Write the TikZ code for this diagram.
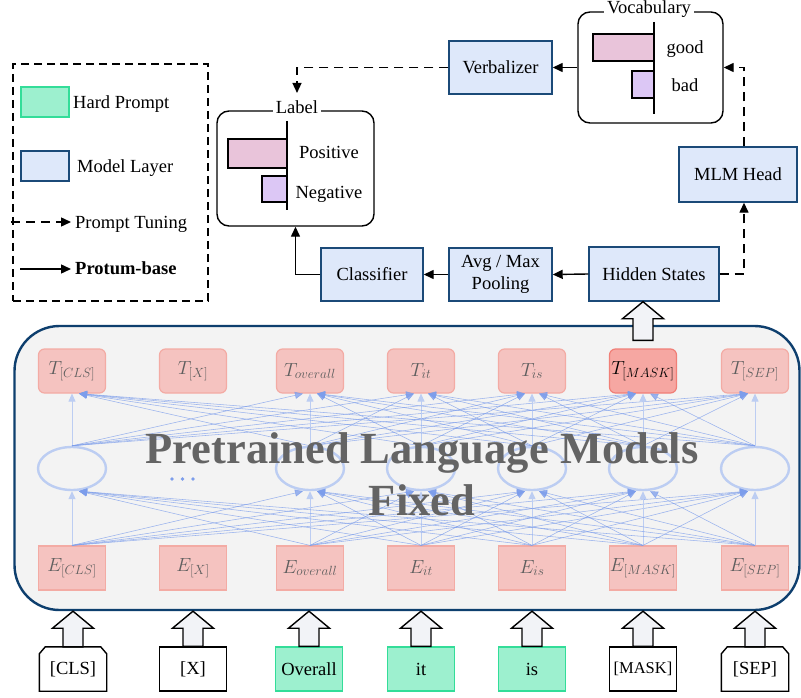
\RequirePackage{fix-cm}
\documentclass[tikz,border=0pt]{standalone}
\usepackage{fontspec}
\setmainfont{Liberation Serif}
\usetikzlibrary{arrows.meta,calc,shapes.geometric}
\definecolor{mlfill}{HTML}{DEE8FA}
\definecolor{mldraw}{HTML}{1B4A78}
\definecolor{hpfill}{HTML}{9DF0CF}
\definecolor{hpdraw}{HTML}{33DD99}
\definecolor{tfill}{HTML}{F5C3C0}
\definecolor{tdraw}{HTML}{F3ABA4}
\definecolor{mfill}{HTML}{F6A7A2}
\definecolor{mdraw}{HTML}{F07F77}
\definecolor{plmfill}{HTML}{F3F3F3}
\definecolor{plmdraw}{HTML}{0E3F6E}
\definecolor{netdark}{HTML}{7C9DEB}
\definecolor{netlight}{HTML}{BCCDF2}
\definecolor{pinkbar}{HTML}{E9C4DA}
\definecolor{lavbar}{HTML}{DCC7F5}
\definecolor{arrfill}{HTML}{F2F3F7}
\definecolor{txtgray}{HTML}{5E5E5E}
\definecolor{bigtxt}{HTML}{646464}
\newcommand{\fsn}{\fontsize{18.5}{22}\selectfont}
\newcommand{\fsm}{\fontsize{16.5}{20}\selectfont}
\newcommand{\fst}{\fontsize{19}{22}\selectfont}
\newcommand{\fsbig}{\fontsize{44.5}{52}\selectfont\bfseries}
\newcommand{\hollowup}[2]{%
  \draw[blockarr] ($(#1)+(-10,0)$) -- ($(#2)+(-10,17)$) -- ($(#2)+(-20.5,17)$) -- (#2)
    -- ($(#2)+(20.5,17)$) -- ($(#2)+(10,17)$) -- ($(#1)+(10,0)$) -- cycle;}
\begin{document}
\begin{tikzpicture}[x=1pt,y=-1pt,
  mlbox/.style={draw=mldraw, fill=mlfill, line width=1.4pt, inner sep=0pt, align=center, font=\fsn},
  rbox/.style={draw=black, line width=1.4pt, rounded corners=12pt, fill=white, inner sep=0pt},
  ttl/.style={fill=white, inner sep=3pt, anchor=base, font=\fsn},
  tnode/.style={draw=tdraw, fill=tfill, line width=1.2pt, rounded corners=6pt, minimum width=67pt, minimum height=44pt, inner sep=0pt, font=\fst, text=txtgray},
  enode/.style={draw=tdraw, fill=tfill, line width=1.2pt, minimum width=67pt, minimum height=44pt, inner sep=0pt, font=\fst, text=txtgray},
  hnode/.style={ellipse, draw=netlight, line width=2.4pt, minimum width=68pt, minimum height=43pt, inner sep=0pt},
  inbox/.style={minimum width=67pt, minimum height=44pt, inner sep=0pt, font=\fsn},
  hp/.style={inbox, draw=hpdraw, fill=hpfill, line width=1.4pt},
  plainin/.style={inbox, draw=black, fill=white, line width=1.4pt},
  blockarr/.style={draw=black, fill=arrfill, line width=1.4pt, line join=miter},
  solidarr/.style={draw=black, line width=1.4pt, -{Triangle[length=10pt,width=9pt]}},
  dasharr/.style={solidarr, dash pattern=on 9pt off 6pt},
  diag/.style={draw=netdark, line width=0.55pt, opacity=0.75, -{Triangle[length=8pt,width=7pt]}},
  vert/.style={draw=netlight, line width=1pt, -{Triangle[length=8pt,width=7pt]}},
  bar/.style={draw=black, line width=2.4pt},
  lbl/.style={anchor=base, font=\fsn, inner sep=0pt},
]
\useasboundingbox (0,0) rectangle (801,698);

% ---------- legend ----------
\node[draw, line width=1.4pt, dash pattern=on 8pt off 5pt, minimum width=195pt, minimum height=237pt, inner sep=0pt] (legend) at (110.5,182.5) {};
\node[draw=hpdraw, fill=hpfill, line width=1.4pt, minimum width=48pt, minimum height=30pt, inner sep=0pt] (lghp) at (45,102) {};
\node[lbl, anchor=base west] (lghpt) at (73,109) {Hard Prompt};
\node[draw=mldraw, fill=mlfill, line width=1.4pt, minimum width=48pt, minimum height=30pt, inner sep=0pt] (lgml) at (45,166) {};
\node[lbl, anchor=base west] (lgmlt) at (77,173) {Model Layer};
\coordinate (lgpa) at (11,222);
\coordinate (lgpb) at (71,222);
\draw[dasharr] (lgpa) -- (lgpb);
\node[lbl, anchor=base west] (lgpt) at (75,228) {Prompt Tuning};
\coordinate (lgsa) at (20,269);
\coordinate (lgsb) at (71,269);
\draw[solidarr] (lgsa) -- (lgsb);
\node[lbl, anchor=base west, font=\fsn\bfseries] (lgst) at (75,274) {Protum-base};

% ---------- top pipeline ----------
\node[rbox, minimum width=145pt, minimum height=111pt] (voc) at (650.5,67.5) {};
\node[ttl] (voctitle) at (649,14) {Vocabulary};
\draw[bar, fill=pinkbar] (593,34) rectangle (654,61);
\draw[bar, fill=lavbar] (632,71) rectangle (654,98);
\draw[line width=2.4pt] (654,22) -- (654,114);
\node[lbl] (good) at (685,54) {good};
\node[lbl] (bad) at (685,92) {bad};

\node[mlbox, minimum width=103pt, minimum height=53pt] (verb) at (500.5,67.5) {Verbalizer};
\node[mlbox, minimum width=118pt, minimum height=55pt] (mlm) at (738,174.5) {MLM Head};
\node[mlbox, minimum width=130pt, minimum height=54pt] (hid) at (654,274) {Hidden States};
\node[mlbox, minimum width=103pt, minimum height=53pt] (pool) at (500.5,274.5) {Avg / Max\\Pooling};
\node[mlbox, minimum width=102pt, minimum height=53pt] (cls) at (372,274.5) {Classifier};

\node[rbox, minimum width=157pt, minimum height=115pt] (lab) at (295.5,168.5) {};
\node[ttl] (labtitle) at (297,114) {Label};
\draw[bar, fill=pinkbar] (228,139) rectangle (287,168);
\draw[bar, fill=lavbar] (262,176) rectangle (287,202);
\draw[line width=2.4pt] (287,121) -- (287,210);
\node[lbl] (pos) at (329,159) {Positive};
\node[lbl] (neg) at (329,198) {Negative};

\draw[solidarr] (voc.west) -- (verb.east);
\draw[dasharr] (verb.west) -| ([yshift=5pt]labtitle.north);
\draw[solidarr] (hid.west) -- (pool.east);
\draw[solidarr] (pool.west) -- (cls.east);
\draw[solidarr] (cls.west) -| (lab.south);
\draw[dasharr] (hid.east) -| ([xshift=6pt]mlm.south);
\draw[dasharr] ([xshift=6pt]mlm.north) |- (voc.east);

% ---------- PLM ----------
\node[draw=plmdraw, fill=plmfill, line width=2.4pt, rounded corners=45pt, minimum width=785pt, minimum height=284pt, inner sep=0pt] (plm) at (407,468) {};

\node[tnode] (t1) at (72,371) {$T_{[CLS]}$};
\node[tnode] (t2) at (193,371) {$T_{[X]}$};
\node[tnode] (t3) at (310,371) {$T_{overall}$};
\node[tnode] (t4) at (421,371) {$T_{it}$};
\node[tnode] (t5) at (532,371) {$T_{is}$};
\node[tnode, fill=mfill, draw=mdraw, text=black] (t6) at (643,371) {$T_{[MASK]}$};
\node[tnode] (t7) at (755,371) {$T_{[SEP]}$};

\node[enode] (e1) at (72,568) {$E_{[CLS]}$};
\node[enode] (e2) at (193,568) {$E_{[X]}$};
\node[enode] (e3) at (310,568) {$E_{overall}$};
\node[enode] (e4) at (421,568) {$E_{it}$};
\node[enode] (e5) at (532,568) {$E_{is}$};
\node[enode] (e6) at (643,568) {$E_{[MASK]}$};
\node[enode] (e7) at (755,568) {$E_{[SEP]}$};

\foreach \i/\x in {1/72,3/310,4/421,5/532,6/643,7/755}{
  \node[hnode] (h\i) at (\x,468.5) {};
}

\foreach \i in {1,3,4,5,6,7}{
  \foreach \j in {1,3,4,5,6,7}{
    \ifnum\i=\j
      \draw[vert] (e\i.north) -- (h\j.south);
      \draw[vert] (h\i.north) -- (t\j.south);
    \else
      \pgfmathsetmacro\myoff{7*sign(\i-\j)}
      \draw[diag] (e\i.north) -- ([xshift=\myoff pt]h\j.south);
      \draw[diag] (h\i.north) -- ([xshift=\myoff pt]t\j.south);
    \fi
  }
}

\foreach \dx in {172,182.5,193}{
  \fill[netdark] (\dx,479) circle[radius=1.8];
}

\node[anchor=base, font=\fsbig, text=bigtxt, inner sep=0pt] (plmtxt1) at (422,463) {Pretrained Language Models};
\node[anchor=base, font=\fsbig, text=bigtxt, inner sep=0pt] (plmtxt2) at (422,515) {Fixed};

% ---------- inputs ----------
\node[inbox] (in1) at (73,669) {[CLS]};
\node[plainin] (in2) at (193,669) {[X]};
\node[hp] (in3) at (309,669) {Overall};
\node[hp] (in4) at (421,669) {it};
\node[hp] (in5) at (532,669) {is};
\node[plainin, font=\fsm] (in6) at (643,669) {[MASK]};
\node[inbox] (in7) at (755,669) {[SEP]};
\foreach \k in {1,7}{
  \draw[line width=1.4pt, line join=miter] (in\k.south west) -- ([yshift=-7pt]in\k.north west) -- ([xshift=6pt]in\k.north west)
    -- ([xshift=-6pt]in\k.north east) -- ([yshift=-7pt]in\k.north east) -- (in\k.south east) -- cycle;
}
\foreach \k in {1,...,7}{
  \hollowup{in\k.north}{in\k.north |- plm.south}
}
\coordinate (tb) at ($(t6.north)+(0,-8)$);
\hollowup{tb}{tb |- hid.south}
\end{tikzpicture}
\end{document}
